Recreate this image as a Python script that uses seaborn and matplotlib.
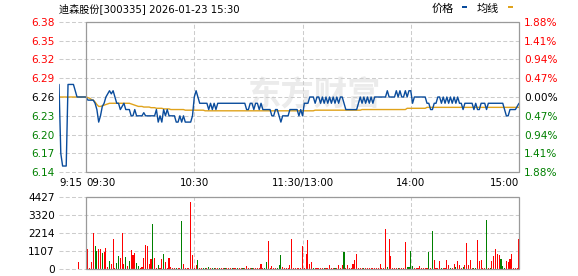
import matplotlib
matplotlib.use("Agg")
import matplotlib.pyplot as plt
import seaborn as sns
import pandas as pd
from matplotlib.patches import Rectangle

# ---------------- data ----------------
title = "迪森股份[300335] 2026-01-23 15:30"
legend_labels = ["价格", "均线"]
watermark = "东方财富"
x_tick_minutes = [0, 15, 75, 135, 195, 255]
x_tick_labels = ["9:15", "09:30", "10:30", "11:30/13:00", "14:00", "15:00"]
price_ticks = [6.14, 6.17, 6.20, 6.23, 6.26, 6.29, 6.32, 6.35, 6.38]
price_tick_labels = ["6.14", "6.17", "6.20", "6.23", "6.26", "6.29", "6.32", "6.35", "6.38"]
pct_tick_labels = ["1.88%", "1.41%", "0.94%", "0.47%", "0.00%", "0.47%", "0.94%", "1.41%", "1.88%"]
vol_ticks = [0, 1107, 2214, 3320, 4427]
vol_tick_labels = ["0", "1107", "2214", "3320", "4427"]
prev_close = 6.26

# pre-market 9:15 - 9:29 (one value per minute)
pre_price = [6.28, 6.17, 6.15, 6.15, 6.15, 6.28, 6.28, 6.28, 6.28, 6.27,
             6.26, 6.26, 6.26, 6.26, 6.26]
pre_avg = [6.26, 6.26, 6.26, 6.26, 6.26, 6.26, 6.26, 6.26, 6.26, 6.26,
           6.26, 6.26, 6.26, 6.26, 6.26]
pre_vol_minute = 11
pre_vol = 467

# trading session 9:30 - 15:00 (241 minutes)
price = [
    6.26, 6.255, 6.255, 6.255, 6.255, 6.25, 6.24, 6.22, 6.23, 6.245,
    6.25, 6.26, 6.265, 6.27, 6.265, 6.27, 6.26, 6.25, 6.25, 6.24,
    6.245, 6.25, 6.24, 6.24, 6.24, 6.23, 6.23, 6.24, 6.23, 6.23,
    6.23, 6.23, 6.235, 6.23, 6.23, 6.23, 6.23, 6.23, 6.23, 6.24,
    6.22, 6.23, 6.22, 6.24, 6.23, 6.24, 6.23, 6.23, 6.23, 6.23,
    6.22, 6.22, 6.23, 6.22, 6.23, 6.22, 6.22, 6.22, 6.22, 6.23,
    6.26, 6.27, 6.26, 6.25, 6.25, 6.25, 6.25, 6.25, 6.24, 6.25,
    6.24, 6.25, 6.24, 6.25, 6.25, 6.25, 6.25, 6.25, 6.25, 6.25,
    6.25, 6.25, 6.25, 6.25, 6.25, 6.25, 6.25, 6.25, 6.25, 6.24,
    6.24, 6.25, 6.25, 6.24, 6.25, 6.25, 6.24, 6.25, 6.24, 6.24,
    6.24, 6.24, 6.24, 6.23, 6.23, 6.24, 6.24, 6.23, 6.22, 6.23,
    6.23, 6.23, 6.23, 6.24, 6.24, 6.24, 6.24, 6.24, 6.23, 6.24,
    6.23, 6.25, 6.25, 6.25, 6.26, 6.26, 6.26, 6.25, 6.26, 6.26,
    6.25, 6.26, 6.25, 6.26, 6.25, 6.26, 6.25, 6.26, 6.25, 6.26,
    6.25, 6.26, 6.26, 6.25, 6.24, 6.24, 6.24, 6.24, 6.24, 6.24,
    6.24, 6.25, 6.26, 6.25, 6.26, 6.25, 6.26, 6.25, 6.26, 6.25,
    6.26, 6.26, 6.26, 6.26, 6.26, 6.26, 6.26, 6.27, 6.26, 6.26,
    6.26, 6.26, 6.27, 6.26, 6.27, 6.26, 6.26, 6.27, 6.26, 6.27,
    6.27, 6.25, 6.26, 6.26, 6.26, 6.26, 6.26, 6.26, 6.26, 6.25,
    6.25, 6.24, 6.24, 6.25, 6.25, 6.26, 6.26, 6.25, 6.26, 6.25,
    6.26, 6.25, 6.26, 6.25, 6.26, 6.25, 6.26, 6.25, 6.25, 6.24,
    6.25, 6.25, 6.25, 6.25, 6.25, 6.24, 6.25, 6.24, 6.24, 6.25,
    6.25, 6.25, 6.24, 6.25, 6.25, 6.25, 6.25, 6.25, 6.25, 6.25,
    6.25, 6.25, 6.24, 6.23, 6.23, 6.24, 6.24, 6.24, 6.24, 6.245,
    6.25,
]

avg = [
    6.260, 6.259, 6.258, 6.256, 6.255, 6.252, 6.248, 6.245, 6.245, 6.246,
    6.247, 6.248, 6.249, 6.250, 6.250, 6.250, 6.250, 6.250, 6.250, 6.250,
    6.250, 6.250, 6.250, 6.250, 6.250, 6.249, 6.248, 6.247, 6.246, 6.245,
    6.245, 6.245, 6.244, 6.244, 6.244, 6.244, 6.243, 6.243, 6.243, 6.242,
    6.242, 6.242, 6.242, 6.241, 6.241, 6.241, 6.241, 6.240, 6.240, 6.240,
    6.240, 6.240, 6.240, 6.240, 6.240, 6.239, 6.239, 6.239, 6.239, 6.239,
    6.239, 6.239, 6.239, 6.239, 6.239, 6.239, 6.238, 6.238, 6.238, 6.238,
    6.238, 6.238, 6.238, 6.238, 6.238, 6.238, 6.238, 6.238, 6.238, 6.238,
    6.238, 6.238, 6.238, 6.238, 6.238, 6.238, 6.238, 6.238, 6.238, 6.238,
    6.238, 6.238, 6.238, 6.238, 6.238, 6.238, 6.238, 6.238, 6.238, 6.238,
    6.238, 6.238, 6.238, 6.238, 6.238, 6.238, 6.238, 6.238, 6.238, 6.238,
    6.238, 6.238, 6.238, 6.238, 6.238, 6.238, 6.238, 6.238, 6.238, 6.238,
    6.238, 6.238, 6.238, 6.238, 6.238, 6.238, 6.238, 6.239, 6.239, 6.239,
    6.239, 6.239, 6.239, 6.239, 6.239, 6.239, 6.239, 6.239, 6.239, 6.239,
    6.239, 6.239, 6.239, 6.239, 6.239, 6.239, 6.239, 6.239, 6.239, 6.239,
    6.239, 6.239, 6.239, 6.240, 6.240, 6.240, 6.240, 6.240, 6.240, 6.240,
    6.240, 6.240, 6.240, 6.240, 6.240, 6.240, 6.240, 6.240, 6.240, 6.240,
    6.240, 6.240, 6.240, 6.240, 6.240, 6.240, 6.240, 6.240, 6.242, 6.242,
    6.242, 6.242, 6.242, 6.242, 6.242, 6.242, 6.242, 6.242, 6.242, 6.2435,
    6.2435, 6.2435, 6.2435, 6.2435, 6.2435, 6.2435, 6.2435, 6.2435, 6.2435, 6.2435,
    6.2435, 6.2435, 6.2435, 6.2435, 6.2435, 6.2435, 6.2435, 6.2435, 6.2435, 6.2435,
    6.2435, 6.2435, 6.2435, 6.2435, 6.2435, 6.2435, 6.2435, 6.2435, 6.2435, 6.2435,
    6.2435, 6.2435, 6.2435, 6.2435, 6.2435, 6.2435, 6.2435, 6.2435, 6.2435, 6.2435,
    6.2435, 6.2435, 6.2435, 6.2435, 6.2435, 6.2435, 6.2435, 6.2435, 6.2435, 6.2435,
    6.2435,
]

volume = [
    2233, 1238, 60, 467, 2233, 1421, 1117, 1238, 1238, 995,
    1076, 1320, 142, 508, 345, 1847, 60, 386, 832, 711,
    2213, 345, 771, 203, 508, 1177, 873, 995, 406, 203,
    60, 142, 711, 1482, 1421, 325, 629, 2761, 690, 60,
    264, 60, 629, 914, 447, 60, 690, 142, 60, 60,
    60, 60, 60, 2944, 325, 60, 60, 60, 4080, 873,
    60, 264, 548, 60, 60, 60, 60, 60, 142, 50,
    50, 50, 50, 50, 50, 50, 50, 50, 100, 50,
    50, 50, 50, 50, 50, 50, 50, 50, 50, 203,
    50, 50, 50, 50, 50, 50, 100, 325, 60, 60,
    467, 1726, 60, 203, 60, 60, 60, 264, 873, 150,
    100, 60, 100, 264, 1847, 60, 60, 60, 60, 60,
    1421, 100, 934, 1786, 325, 447, 100, 50, 50, 50,
    50, 50, 50, 50, 50, 264, 50, 100, 60, 50,
    264, 50, 264, 1056, 50, 264, 50, 50, 325, 568,
    934, 50, 80, 50, 50, 80, 50, 50, 80, 50,
    80, 50, 50, 325, 50, 50, 2456, 142, 1847, 812,
    60, 60, 60, 100, 60, 60, 60, 1664, 150, 150,
    1117, 203, 50, 80, 80, 203, 50, 50, 50, 50,
    1056, 50, 2335, 568, 100, 50, 508, 80, 50, 50,
    568, 264, 80, 50, 325, 150, 508, 264, 50, 150,
    264, 1604, 264, 568, 50, 60, 60, 1786, 508, 568,
    60, 60, 3004, 60, 60, 508, 812, 1238, 934, 873,
    629, 203, 60, 508, 447, 629, 934, 60, 60, 60,
    1847,
]

# u = up (red), d = down (green)
vol_dir = [
    "d", "u", "u", "u", "u", "d", "d", "u", "u", "d",
    "u", "u", "u", "d", "u", "u", "u", "d", "d", "u",
    "u", "u", "d", "u", "d", "u", "u", "u", "d", "d",
    "u", "u", "u", "u", "u", "u", "u", "d", "u", "u",
    "d", "u", "u", "d", "u", "u", "u", "u", "u", "u",
    "d", "u", "u", "d", "u", "u", "u", "u", "u", "u",
    "u", "u", "d", "u", "u", "d", "d", "u", "d", "u",
    "d", "d", "u", "u", "d", "u", "u", "d", "u", "u",
    "u", "d", "u", "u", "d", "u", "u", "d", "u", "u",
    "u", "u", "d", "u", "u", "u", "u", "u", "u", "d",
    "d", "u", "u", "u", "u", "u", "d", "d", "d", "u",
    "u", "u", "u", "u", "u", "u", "u", "u", "u", "u",
    "u", "u", "u", "u", "u", "u", "d", "u", "u", "u",
    "u", "u", "d", "u", "u", "u", "u", "u", "d", "u",
    "u", "u", "u", "d", "u", "u", "u", "u", "u", "u",
    "u", "u", "u", "u", "d", "u", "u", "u", "u", "u",
    "u", "u", "u", "u", "u", "u", "u", "d", "u", "u",
    "u", "u", "u", "d", "u", "u", "u", "u", "d", "d",
    "d", "d", "u", "u", "u", "u", "u", "u", "u", "u",
    "d", "u", "d", "u", "u", "u", "u", "d", "u", "u",
    "u", "u", "d", "u", "u", "d", "u", "u", "u", "d",
    "u", "u", "u", "u", "u", "d", "d", "u", "u", "u",
    "u", "u", "d", "u", "d", "u", "u", "u", "u", "u",
    "d", "d", "d", "u", "u", "u", "u", "u", "u", "u",
    "u",
]

# ---------------- styling ----------------
RED = "#ff0000"
GREEN = "#008000"
BLACK = "#000000"
PRICE_C = "#0a4c9c"
AVG_C = "#e0a31c"
FRAME_C = "#9a9a9a"
GRID_C = "#cccccc"
FS = 7.6

sns.set_theme(style="white")
plt.rcParams["font.family"] = ["DejaVu Sans", "Noto Sans CJK SC"]
plt.rcParams["axes.unicode_minus"] = False

W, H = 578, 276
fig = plt.figure(figsize=(W / 100, H / 100), dpi=100)
fig.patch.set_facecolor("white")

n_pre = len(pre_price)
open_min = n_pre
close_min = n_pre + len(price) - 1

df = pd.DataFrame({
    "minute": list(range(n_pre + len(price))),
    "price": pre_price + price,
    "avg": pre_avg + avg,
})
vdf = pd.DataFrame({
    "minute": [pre_vol_minute] + [open_min + i for i in range(len(volume))],
    "vol": [pre_vol] + volume,
    "dir": ["u"] + vol_dir,
})


def px_axes(left, top, right, bottom):
    return fig.add_axes([left / W, 1 - bottom / H, (right - left) / W, (bottom - top) / H])


def grid_and_frame(ax, ylo, yhi, yticks):
    ax.set_xlim(0, close_min)
    ax.set_ylim(ylo, yhi)
    for s in ax.spines.values():
        s.set_visible(False)
    ax.hlines(yticks, 0, close_min, colors=GRID_C, lw=0.75,
              linestyles=(0, (3.8, 2.2)), zorder=1, clip_on=False)
    ax.vlines([75, 135, 195], ylo, yhi, colors=GRID_C, lw=0.75,
              linestyles=(0, (3.8, 2.2)), zorder=1)
    ax.add_patch(Rectangle((open_min, ylo), close_min - open_min, yhi - ylo,
                           fill=False, ec=FRAME_C, lw=0.9, zorder=4, clip_on=False))
    ax.grid(False)


def tick_color(t):
    if t > prev_close + 1e-9:
        return RED
    if t < prev_close - 1e-9:
        return GREEN
    return BLACK


# ---------------- price panel ----------------
ax = px_axes(59, 21.7, 519, 172.3)
grid_and_frame(ax, price_ticks[0], price_ticks[-1], price_ticks)

ax.text(314 / W, 1 - 96 / H, watermark, transform=fig.transFigure,
        fontsize=24, fontweight="bold", color="#ebebeb", ha="center", va="center",
        family=["Noto Sans CJK SC"], zorder=0.5)

sns.lineplot(data=df, x="minute", y="avg", ax=ax, color=AVG_C, lw=1.0,
             estimator=None, zorder=2)
sns.lineplot(data=df, x="minute", y="price", ax=ax, color=PRICE_C, lw=1.0,
             estimator=None, zorder=3)
ax.set_xlabel("")
ax.set_ylabel("")

ax.set_yticks(price_ticks, price_tick_labels)
ax.tick_params(axis="y", length=0, pad=3, labelsize=FS)
for lbl, t in zip(ax.get_yticklabels(), price_ticks):
    lbl.set_color(tick_color(t))

ax.set_xticks(x_tick_minutes, x_tick_labels)
ax.tick_params(axis="x", length=0, pad=4, labelsize=7.4, labelcolor=BLACK)
xl = ax.get_xticklabels()
xl[0].set_ha("left")
xl[1].set_ha("left")
xl[-1].set_ha("right")

axr = ax.twinx()
axr.set_ylim(ax.get_ylim())
for s in axr.spines.values():
    s.set_visible(False)
axr.set_yticks(price_ticks, pct_tick_labels)
axr.tick_params(axis="y", length=0, pad=3.6, labelsize=FS)
for lbl, t in zip(axr.get_yticklabels(), price_ticks):
    lbl.set_color(tick_color(t))
axr.grid(False)

# ---------------- volume panel ----------------
axv = px_axes(59, 196.7, 519, 269.3)
grid_and_frame(axv, vol_ticks[0], vol_ticks[-1], vol_ticks)
bar_colors = [RED if d == "u" else GREEN for d in vdf["dir"]]
axv.bar(vdf["minute"], vdf["vol"], width=0.6, color=bar_colors, lw=0, zorder=2)
axv.set_yticks(vol_ticks, vol_tick_labels)
axv.tick_params(axis="y", length=0, pad=3, labelsize=FS, labelcolor=BLACK)
axv.set_xticks([])

# ---------------- title & legend ----------------
fig.text(59 / W, 1 - 9 / H, title, fontsize=7.3, color=BLACK, ha="left", va="center")
fig.text(431.5 / W, 1 - 9 / H, legend_labels[0], fontsize=8, color=BLACK,
         ha="left", va="center", family=["Noto Sans CJK SC"])
fig.text(476.5 / W, 1 - 9 / H, legend_labels[1], fontsize=8, color=BLACK,
         ha="left", va="center", family=["Noto Sans CJK SC"])
fig.add_artist(Rectangle((462.3 / W, 1 - 8 / H), 4.4 / W, 2.2 / H,
                         transform=fig.transFigure, color=PRICE_C, lw=0))
fig.add_artist(Rectangle((508.3 / W, 1 - 8 / H), 4.4 / W, 2.2 / H,
                         transform=fig.transFigure, color=AVG_C, lw=0))

fig.savefig("out.png", dpi=100, facecolor="white")
